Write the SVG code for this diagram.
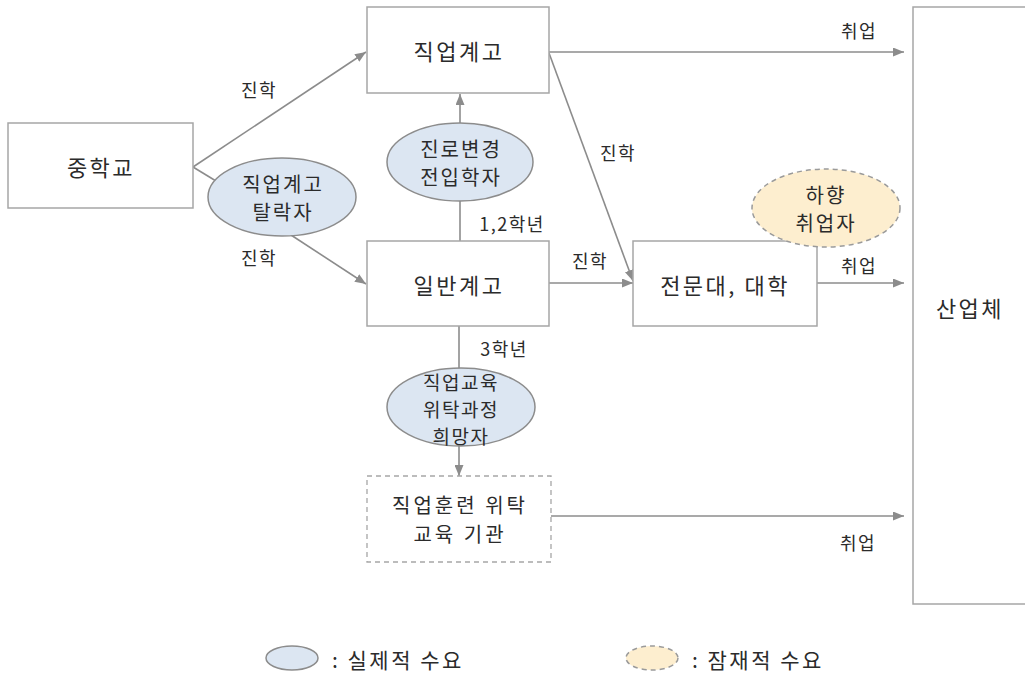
<svg xmlns="http://www.w3.org/2000/svg" width="1025" height="673" viewBox="0 0 1025 673">
<style>
text{font-family:"Noto Sans CJK KR","Noto Sans",sans-serif;fill:#2b2b2b;text-anchor:middle;dominant-baseline:central}
.box{fill:#fff;stroke:#a6a6a6;stroke-width:1.5}
.dbox{fill:#fff;stroke:#a6a6a6;stroke-width:1.3;stroke-dasharray:5 4}
.ell{fill:#dce6f2;stroke:#8c8c8c;stroke-width:1.5}
.pot{fill:#fdeecf;stroke:#9a9a9a;stroke-width:1.5;stroke-dasharray:5 4}
.t{font-size:22px;letter-spacing:2.5px}
.t2{font-size:20px;letter-spacing:3px}
.e{font-size:20px;letter-spacing:2px}
.e3{font-size:19px;letter-spacing:1.5px}
.l{font-size:18px;letter-spacing:1.5px}
.g{font-size:21px;letter-spacing:2.5px;text-anchor:start}
.c line{stroke:#8c8c8c;stroke-width:1.6;fill:none}
</style>
<defs>
<marker id="a" markerUnits="userSpaceOnUse" markerWidth="11" markerHeight="9" refX="11" refY="4.5" orient="auto">
<path d="M0,0 L11,4.5 L0,9 z" fill="#8c8c8c"/>
</marker>
</defs>
<rect width="1025" height="673" fill="#fff"/>
<g class="c">
<line x1="193" y1="167" x2="366" y2="52" marker-end="url(#a)"/>
<line x1="193" y1="167" x2="216" y2="181"/>
<line x1="291" y1="235" x2="366" y2="284" marker-end="url(#a)"/>
<line x1="460" y1="241" x2="460" y2="200"/>
<line x1="460" y1="124" x2="460" y2="94" marker-end="url(#a)"/>
<line x1="549" y1="52" x2="904" y2="52" marker-end="url(#a)"/>
<line x1="549" y1="53" x2="633" y2="281" marker-end="url(#a)"/>
<line x1="549" y1="283" x2="633" y2="283" marker-end="url(#a)"/>
<line x1="817" y1="283" x2="904" y2="283" marker-end="url(#a)"/>
<line x1="459" y1="326" x2="459" y2="369"/>
<line x1="459" y1="445" x2="459" y2="476" marker-end="url(#a)"/>
<line x1="551" y1="516" x2="904" y2="516" marker-end="url(#a)"/>
</g>
<g id="n-middle"><rect class="box" x="8" y="123" width="185" height="85"/><text class="t" x="101" y="166">중학교</text></g>
<g id="n-voc"><rect class="box" x="367" y="7" width="182" height="86"/><text class="t" x="459" y="50">직업계고</text></g>
<g id="n-gen"><rect class="box" x="367" y="241" width="182" height="85"/><text class="t" x="459" y="284">일반계고</text></g>
<g id="n-univ"><rect class="box" x="633" y="241" width="184" height="85"/><text class="t" x="725" y="284">전문대, 대학</text></g>
<g id="n-ind"><rect class="box" x="913" y="7" width="130" height="597"/><text class="t" x="970" y="307">산업체</text></g>
<g id="n-train"><rect class="dbox" x="367" y="476" width="184" height="86"/><text class="t2" x="460" y="504">직업훈련 위탁</text><text class="t2" x="460" y="533">교육 기관</text></g>
<g id="n-drop"><ellipse class="ell" cx="282" cy="197" rx="74" ry="39"/><text class="e" x="283" y="183">직업계고</text><text class="e" x="283" y="211">탈락자</text></g>
<g id="n-change"><ellipse class="ell" cx="460" cy="162" rx="73" ry="39"/><text class="e" x="461" y="148">진로변경</text><text class="e" x="461" y="176">전입학자</text></g>
<g id="n-want"><ellipse class="ell" cx="461" cy="407" rx="74" ry="39"/><text class="e3" x="461" y="381">직업교육</text><text class="e3" x="461" y="408">위탁과정</text><text class="e3" x="461" y="435">희망자</text></g>
<g id="n-down"><ellipse class="pot" cx="826" cy="208" rx="74" ry="39"/><text class="e" x="826" y="194">하향</text><text class="e" x="826" y="222">취업자</text></g>
<g id="labels">
<text class="l" x="259" y="89">진학</text>
<text class="l" x="259" y="257">진학</text>
<text class="l" x="512" y="223">1,2학년</text>
<text class="l" x="618" y="152">진학</text>
<text class="l" x="590" y="260">진학</text>
<text class="l" x="859" y="30">취업</text>
<text class="l" x="859" y="265">취업</text>
<text class="l" x="858" y="542">취업</text>
<text class="l" x="504" y="348">3학년</text>
</g>
<g id="legend">
<ellipse class="ell" cx="292" cy="658" rx="26" ry="12"/>
<text class="g" x="332" y="659">: 실제적 수요</text>
<ellipse class="pot" cx="652" cy="658" rx="26" ry="12"/>
<text class="g" x="692" y="659">: 잠재적 수요</text>
</g>
</svg>
